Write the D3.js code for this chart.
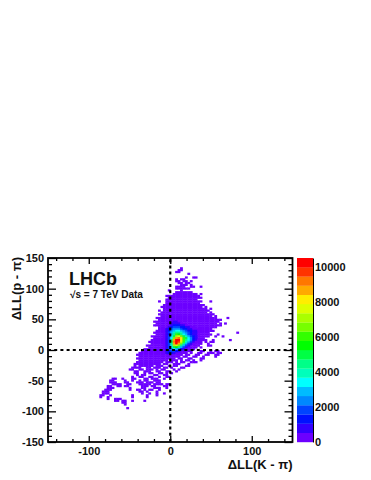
<!DOCTYPE html>
<html lang="en">
<head>
<meta charset="utf-8">
<title>LHCb RICH dLL</title>
<script src="https://d3js.org/d3.v7.min.js"></script>
<style>
  html, body { margin: 0; padding: 0; background: #fff; }
  svg { display: block; }
  text { font-family: "Liberation Sans", Arial, sans-serif; font-weight: bold; fill: #111; }
</style>
</head>
<body>
<script>
// axis ticks
var xMajor = [-100, 0, 100];
var xMinor = [-140, -120, -80, -60, -40, -20, 20, 40, 60, 80, 120, 140];
var yMajor = [-150, -100, -50, 0, 50, 100, 150];
var yMinor = [-140, -130, -120, -110, -90, -80, -70, -60, -40, -30, -20, -10, 10, 20, 30, 40, 60, 70, 80, 90, 110, 120, 130, 140];
var zTicks = [0, 2000, 4000, 6000, 8000, 10000];

// colour bands, bottom to top of the palette
var bandColors = ["#6c00ff", "#3300ff", "#0011ff", "#0044ff", "#0088ff", "#00bbff", "#00ffff", "#00ffbb", "#00ff88", "#00ff44",
                  "#00ff00", "#33ff00", "#77ff00", "#aaff00", "#ddff00", "#ffee00", "#ffaa00", "#ff7700", "#ff3300", "#ff0000"];

// sparse and body bins (lowest band): "row:col-col col-col", rows from the top
var lowBins = [
  "5:33", "6:32-33", "7:31-32", "8:36", "10:35 38-39", "11:31 33-34", "12:31-32 34-35 37", "13:32-33 35-36", "14:33-35 37",
  "15:31-34 37-38 41", "16:31-36", "17:28 33", "18:31-37", "19:30-39 41", "20:27-40", "21:28-41", "22:27-39",
  "23:24 27-41 45", "24:27-40", "25:26-42", "26:25-41 43", "27:26-43 45", "28:24 26-44", "29:25-43 45", "30:24-46", "31:25-45 47",
  "32:23-47 52", "33:24-49", "34:22-48", "35:23-47 49 51", "36:22-49", "37:24-47", "38:24-45", "39:23-46", "40:22-44 56",
  "41:23-45 48", "42:21-44 47 50", "43:22-42", "44:21-43 46 53", "45:20-41 43 45-46", "46:21-41 44", "47:19-40 44-45",
  "48:20-39 41", "49:18-38", "50:17-37 41-42 45 47-48", "51:16-35 37 40-41 44-46 48-49", "52:15-33 35-36 39-40 43-44 47-48",
  "53:16-32 34-35 38-39 42 47", "54:15-30 32-33 36-37 41-42", "55:16-27 29-31 33 35-36 38 41", "56:15-25 27-29 31 33-34 37-39", "57:14-24 26-27 30-32 36",
  "58:14 16-21 23-25 28 30-31 35-36", "59:13-16 19-20 22-24 26-27 29 33-34", "60:12-13 16-17 19-21 23 25-26 30 32",
  "61:14-15 18-20 23-24 27-28 31", "62:14-15 18 20-21 24-25 27 29", "63:15 17-18 22-23 26-27", "64:13 16-17 20-21 24 27-28",
  "65:5-6 9 13-14 18-19 21-23 26", "66:4-5 10 13 16 18-19 22-24", "67:4-6 10-11 15-17 19-21 23-24", "68:5-8 11-12 16-20 22-25 27-28",
  "69:3-4 7-8 10-11 17-19 21-22 26-27", "70:3-5 12 17-18 22-24 27", "71:2-4 12 15-16 18 20-21 24", "72:1-3 16-17 19 23",
  "73:1-3 17 20 23 26", "74:0-1 4 13 19 23", "75:0 3 13 19", "76:3 6-8", "77:6-7 9-10 13 18", "78:9-10", "79:10", "81:11"
];

// dense core: row, first col, band of each bin (base 20)
var coreRows = [
  [34, 29, "0110"],
  [35, 28, "011110"],
  [36, 28, "01222110"],
  [37, 28, "12333221100"],
  [38, 27, "1234443221100"],
  [39, 27, "12456654322110"],
  [40, 27, "1357887543211"],
  [41, 26, "01258ba86532110"],
  [42, 26, "01369dec975321"],
  [43, 26, "0136cghfb96421"],
  [44, 26, "0138gjjfb864210"],
  [45, 26, "0139hjieb75310"],
  [46, 26, "0138gjgc85310"],
  [47, 26, "0137dec8531"],
  [48, 26, "01369a8531"],
  [49, 26, "0134654210"],
  [50, 26, "0123321"],
  [51, 27, "1221"]
];

var width = 371, height = 480;
var x = d3.scaleLinear().domain([-150, 150]).range([48, 292.5]);
var y = d3.scaleLinear().domain([-150, 150]).range([442, 258]);
var z = d3.scaleLinear().domain([0, 10500]).range([442, 258]);
var color = d3.scaleQuantize().domain([0, 10500]).range(bandColors);

// turn a band number into a count and row/col into bin edges
var binSize = 3, firstCol = -87;
var bandWidth = 10500 / bandColors.length;
var cells = [];
function addCell(row, col, band) {
  cells.push({x0: firstCol + col * binSize, y1: 150 - row * binSize, n: (band + 0.5) * bandWidth});
}
lowBins.forEach(function(r) {
  var p = r.split(":");
  p[1].split(" ").forEach(function(s) {
    var e = s.split("-").map(Number);
    for (var c = e[0]; c <= (e.length > 1 ? e[1] : e[0]); c++) addCell(+p[0], c, 0);
  });
});
coreRows.forEach(function(r) {
  r[2].split("").forEach(function(ch, i) {
    addCell(r[0], r[1] + i, parseInt(ch, 20));
  });
});

var svg = d3.select("body").append("svg").attr("width", width).attr("height", height);

svg.append("g").selectAll("rect")
  .data(cells)
  .join("rect")
  .attr("x", d => x(d.x0))
  .attr("y", d => y(d.y1))
  .attr("width", x(binSize) - x(0) + 0.4)
  .attr("height", y(0) - y(binSize) + 0.4)
  .attr("fill", d => color(d.n));

// dashed zero lines
var dash = svg.append("g").attr("stroke", "#000").attr("stroke-width", 2.2).attr("stroke-dasharray", "3,3.2");
dash.append("line").attr("x1", x(-150)).attr("x2", x(150)).attr("y1", y(0)).attr("y2", y(0));
dash.append("line").attr("x1", x(0)).attr("x2", x(0)).attr("y1", y(-150)).attr("y2", y(150));

// axes, ticks point into the frame
function styleAxis(g) {
  g.selectAll(".domain").remove();
  g.selectAll("line").attr("stroke", "#000").attr("stroke-width", 1.3);
  g.selectAll("text").style("font-size", "11px");
}
svg.append("g").attr("transform", "translate(0," + y(-150) + ")")
  .call(d3.axisBottom(x).tickValues(xMajor).tickSizeInner(-6).tickSizeOuter(0).tickPadding(5).tickFormat(d => d))
  .call(styleAxis);
svg.append("g").attr("transform", "translate(0," + y(-150) + ")")
  .call(d3.axisBottom(x).tickValues(xMinor).tickSizeInner(-3).tickSizeOuter(0).tickFormat(""))
  .call(styleAxis);
svg.append("g").attr("transform", "translate(0," + y(150) + ")")
  .call(d3.axisTop(x).tickValues(xMajor).tickSizeInner(-6).tickSizeOuter(0).tickFormat(""))
  .call(styleAxis);
svg.append("g").attr("transform", "translate(0," + y(150) + ")")
  .call(d3.axisTop(x).tickValues(xMinor).tickSizeInner(-3).tickSizeOuter(0).tickFormat(""))
  .call(styleAxis);
svg.append("g").attr("transform", "translate(" + x(-150) + ",0)")
  .call(d3.axisLeft(y).tickValues(yMajor).tickSizeInner(-8).tickSizeOuter(0).tickPadding(4).tickFormat(d => d))
  .call(styleAxis);
svg.append("g").attr("transform", "translate(" + x(-150) + ",0)")
  .call(d3.axisLeft(y).tickValues(yMinor).tickSizeInner(-4).tickSizeOuter(0).tickFormat(""))
  .call(styleAxis);
svg.append("g").attr("transform", "translate(" + x(150) + ",0)")
  .call(d3.axisRight(y).tickValues(yMajor).tickSizeInner(-8).tickSizeOuter(0).tickFormat(""))
  .call(styleAxis);
svg.append("g").attr("transform", "translate(" + x(150) + ",0)")
  .call(d3.axisRight(y).tickValues(yMinor).tickSizeInner(-4).tickSizeOuter(0).tickFormat(""))
  .call(styleAxis);

svg.append("rect")
  .attr("x", x(-150)).attr("y", y(150))
  .attr("width", x(150) - x(-150)).attr("height", y(-150) - y(150))
  .attr("fill", "none").attr("stroke", "#000").attr("stroke-width", 1.8);

// colour bar
var barX = 297, barW = 16;
svg.append("g").selectAll("rect")
  .data(bandColors)
  .join("rect")
  .attr("x", barX)
  .attr("y", (d, i) => z((i + 1) * bandWidth))
  .attr("width", barW)
  .attr("height", z(0) - z(bandWidth) + 0.2)
  .attr("fill", d => d);
svg.append("g").attr("transform", "translate(" + (barX + barW) + ",0)")
  .call(d3.axisRight(z).tickValues(zTicks).tickSize(0).tickPadding(2).tickFormat(d => d))
  .call(g => g.selectAll("text").style("font-size", "11px"))
  .call(g => g.select(".domain").attr("stroke", "#000").attr("stroke-width", 1));

// labels
svg.append("text").attr("x", 69).attr("y", 285).style("font-size", "18px").text("LHCb");
svg.append("text").attr("x", 70).attr("y", 298).style("font-size", "10px").text("\u221As = 7 TeV Data");
svg.append("text").attr("x", 292.5).attr("y", 469).attr("text-anchor", "end").style("font-size", "13px").text("\u0394LL(K - \u03C0)");
svg.append("text").attr("transform", "translate(21,257) rotate(-90)").attr("text-anchor", "end").style("font-size", "13px").text("\u0394LL(p - \u03C0)");
</script>
</body>
</html>
